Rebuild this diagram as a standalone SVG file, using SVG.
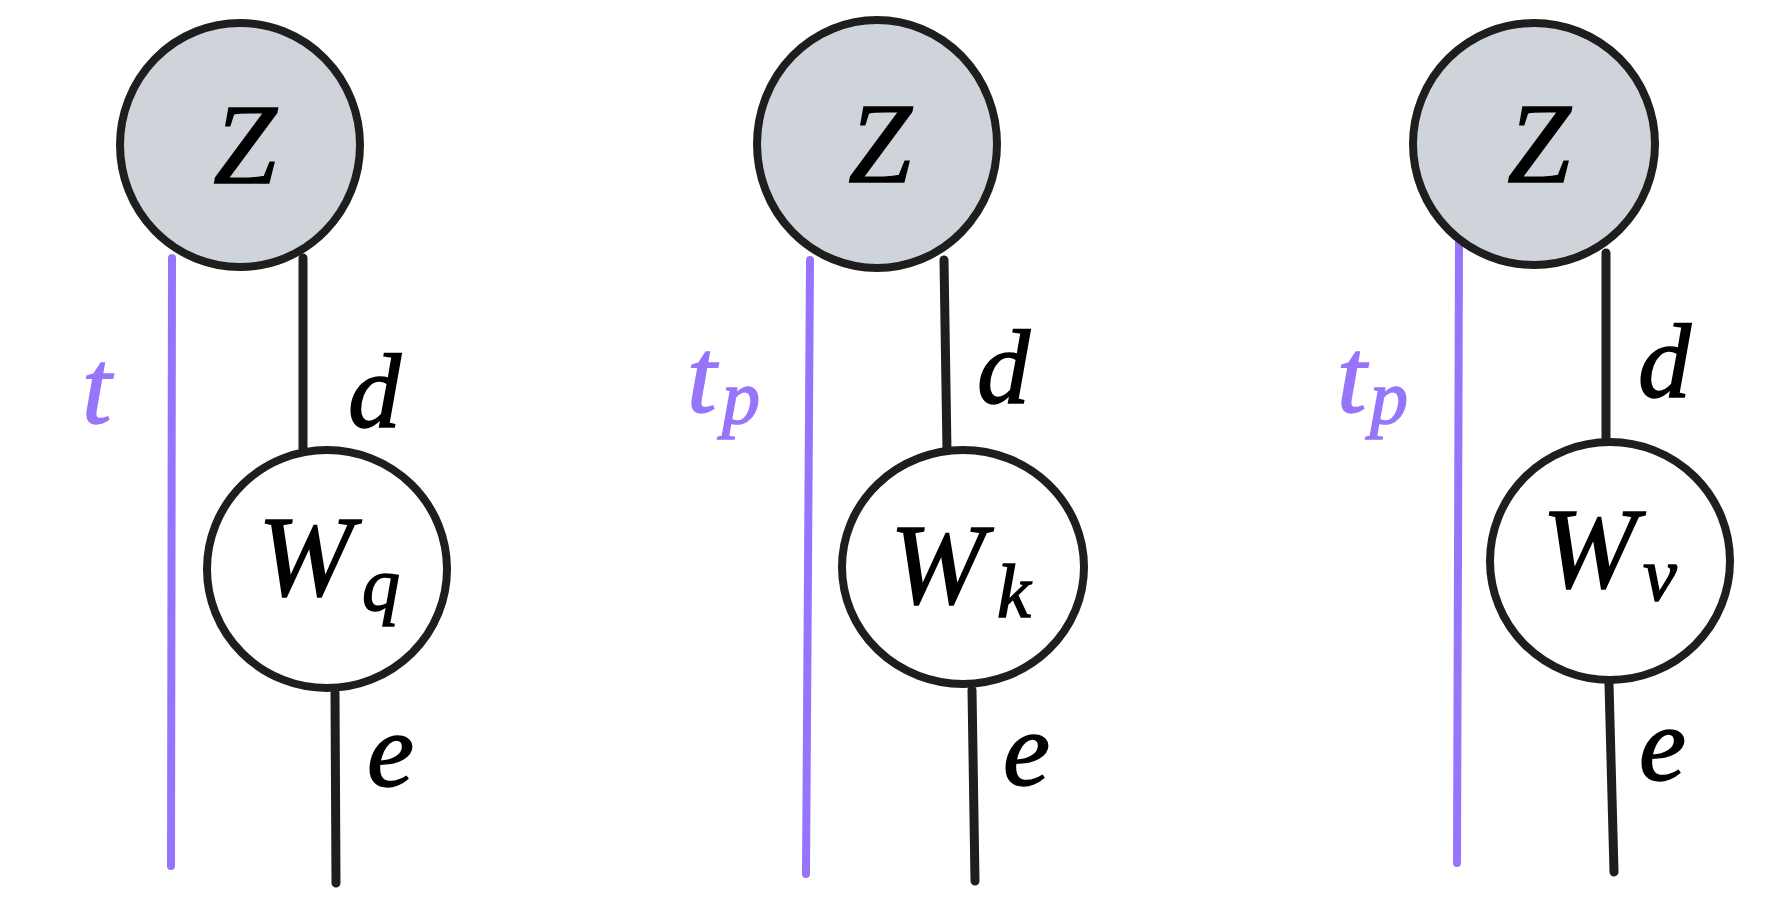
<svg xmlns="http://www.w3.org/2000/svg" width="1787" height="912" viewBox="0 0 1787 912">
<style>
.bg{fill:#ffffff}
.zc{fill:#ced4da;stroke:#1e1e1e;stroke-width:8}
.wc{fill:#ffffff;stroke:#1e1e1e;stroke-width:8}
.bl{stroke:#1e1e1e;stroke-width:9;stroke-linecap:round;fill:none}
.pl{stroke:#9775fa;stroke-width:8;stroke-linecap:round;fill:none}
.m{font-family:"Liberation Serif","Times New Roman",serif;font-style:italic;fill:#000;stroke:#000;stroke-width:1.5}
.big{font-size:114px}
.lab{font-size:106px}
.sub{font-size:76px}
.pu{fill:#9775fa;stroke:#9775fa}
</style>
<rect class="bg" x="0" y="0" width="1787" height="912"/>
<g id="connectors">
<line class="pl" x1="172" y1="258" x2="171" y2="866"/>
<line class="bl" x1="303" y1="258" x2="303" y2="450"/>
<line class="bl" x1="335" y1="693" x2="336" y2="883"/>
<line class="pl" x1="810" y1="260" x2="806" y2="874"/>
<line class="bl" x1="944" y1="260" x2="947" y2="452"/>
<line class="bl" x1="972" y1="690" x2="975" y2="881"/>
<line class="pl" x1="1459" y1="242" x2="1457" y2="863"/>
<line class="bl" x1="1606" y1="253" x2="1606" y2="445"/>
<line class="bl" x1="1609" y1="684" x2="1614" y2="872"/>
</g>
<g id="z1">
<ellipse class="zc" cx="240" cy="145" rx="120" ry="122"/>
<text class="m big" x="245" y="183" text-anchor="middle">Z</text>
</g>
<g id="wq">
<ellipse class="wc" cx="327" cy="569" rx="120" ry="119"/>
<text class="m big" x="258" y="595">W</text>
<text class="m sub" x="362" y="610">q</text>
</g>
<g id="z2">
<ellipse class="zc" cx="877" cy="144" rx="120" ry="124"/>
<text class="m big" x="880" y="182" text-anchor="middle">Z</text>
</g>
<g id="wk">
<ellipse class="wc" cx="963" cy="567" rx="121" ry="117"/>
<text class="m big" x="890" y="603">W</text>
<text class="m sub" x="997" y="617">k</text>
</g>
<g id="z3">
<ellipse class="zc" cx="1534" cy="144" rx="121" ry="121"/>
<text class="m big" x="1539" y="182" text-anchor="middle">Z</text>
</g>
<g id="wv">
<ellipse class="wc" cx="1610" cy="561" rx="120" ry="119"/>
<text class="m big" x="1542" y="587">W</text>
<text class="m sub" x="1643" y="600">v</text>
</g>
<g id="labels">
<text class="m lab pu" x="82" y="423">t</text>
<text class="m lab" x="348" y="427">d</text>
<text class="m lab" x="367" y="786">e</text>
<text class="m lab pu" x="687" y="412">t</text>
<text class="m sub pu" x="722" y="423">p</text>
<text class="m lab" x="977" y="403">d</text>
<text class="m lab" x="1003" y="785">e</text>
<text class="m lab pu" x="1337" y="412">t</text>
<text class="m sub pu" x="1370" y="423">p</text>
<text class="m lab" x="1638" y="397">d</text>
<text class="m lab" x="1639" y="780">e</text>
</g>
</svg>
